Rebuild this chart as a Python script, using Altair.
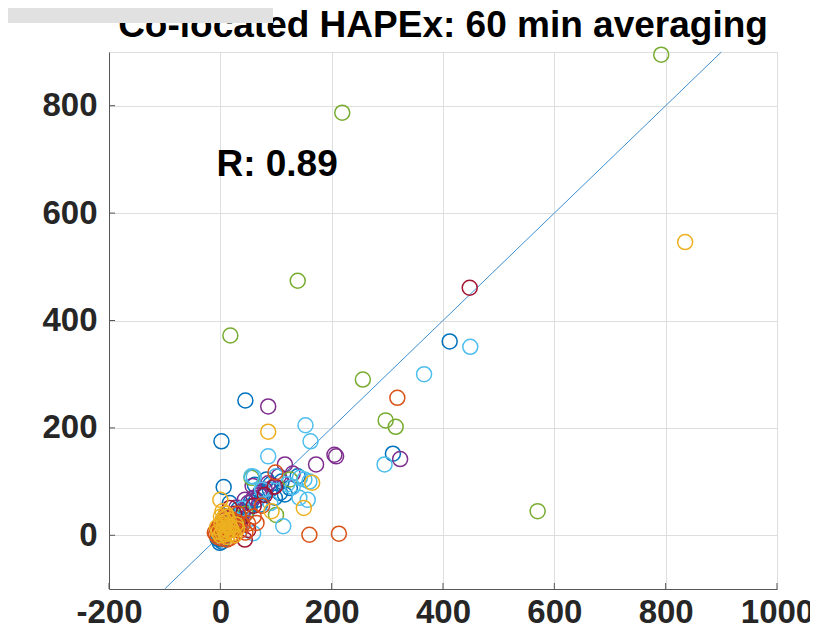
import altair as alt
import pandas as pd

# ---- data ----
blue_x = [412, 310, 45, 2, 6, 65, 77, 89, 107, 116, 98, 71, 53, 47, 32, 17, 23, 36, 62, 83, 139, -1, 0, 5, 12, 20, 28, 40, 55, 72, 90, 110, 125, 8, -3, 3, -5]
blue_y = [361, 152, 251, 175, 90, 66, 76, 85, 79, 76, 70, 57, 54, 42, 48, 60, 35, 30, 94, 104, 110, -14, -8, 10, 18, 25, 33, 45, 62, 80, 95, 100, 88, 3, 0, -12, -6]

purple_x = [86, 208, 323, 172, 116, 58, 86, 44, 29, 70, 95, 105, 60, 40, 50, 80, 130, 205]
purple_y = [240, 147, 142, 132, 132, 92, 97, 66, 52, 75, 90, 110, 70, 40, 60, 85, 115, 150]

green_x = [792, 219, 139, 18, 256, 297, 315, 570, 56, 125, 100, 45, 30]
green_y = [895, 787, 474, 372, 290, 214, 202, 45, 107, 104, 38, 40, 20]

lightblue_x = [449, 366, 295, 153, 162, 86, 60, 143, 151, 160, 142, 157, 59, 113, 56, 100, 120, 75, 40, 25, 90, 130]
lightblue_y = [351, 300, 132, 205, 175, 147, 109, 107, 104, 100, 70, 66, 4, 17, 110, 110, 95, 85, 50, 30, 60, 90]

darkred_x = [448, 44, 17, 98, 25, 35, 60, 80, 10, 50]
darkred_y = [461, -8, 51, 91, 40, 20, 55, 75, 30, 10]

orange_x = [318, 160, 213, 99, 65, 50, -8, -5, 0, 3, 6, 10, 14, 18, 22, 26, 30, -2, 4, 8, 12, 16, 20, 25, 35, 40, 45, 32, 60, 75, -10, -6, 2, 7, 1]
orange_y = [256, 1, 3, 117, 23, 22, 2, -3, 8, 0, 15, 5, 20, -5, 12, 2, 25, 18, 28, 35, -8, 10, 30, 15, 8, 20, 5, 40, 35, 55, 5, 10, -6, -2, 20]

yellow_x = [835, 86, 0, 165, 150, 92, 12, 0, 3, 6, 9, 14, 18, 22, -4, 2, 8, 12, 16, 20, 25, 5, 10, 28, 15, 30, -6, 1, 4, 11, 7]
yellow_y = [546, 193, 66, 98, 51, 45, 35, 0, 5, 12, 2, 8, 15, 4, 6, 22, 25, -3, 18, 10, 0, 30, 40, 20, 28, 12, 15, 35, 45, 5, 18]

line_x = [-100, 900]
line_y = [-100, 900]

x_ticks = [-200, 0, 200, 400, 600, 800, 1000]
y_ticks = [0, 200, 400, 600, 800]

title_text = "Co-located HAPEx: 60 min averaging"
r_text = "R: 0.89"

series = [
    ("blue", blue_x, blue_y),
    ("purple", purple_x, purple_y),
    ("green", green_x, green_y),
    ("lightblue", lightblue_x, lightblue_y),
    ("darkred", darkred_x, darkred_y),
    ("orange", orange_x, orange_y),
    ("yellow", yellow_x, yellow_y),
]
color_domain = ["blue", "orange", "yellow", "purple", "green", "lightblue", "darkred"]
color_range = ["#0072BD", "#D95319", "#EDB120", "#7E2F8E", "#77AC30", "#4DBEEE", "#A2142F"]

rows = []
for name, xs_, ys_ in series:
    for a, b in zip(xs_, ys_):
        rows.append({"x": a, "y": b, "s": name})
pts = pd.DataFrame(rows)
pts["order"] = range(len(pts))

W, H = 668, 537
FONT = "Liberation Sans"

xs = alt.Scale(domain=[-200, 1000], nice=False, zero=False)
ys = alt.Scale(domain=[-100, 900], nice=False, zero=False)

base_x_axis = alt.Axis(values=x_ticks, grid=True, gridColor="#dedede", gridWidth=1,
                       ticks=False, domainColor="#555555", domainWidth=1,
                       labelFont=FONT, labelFontSize=33, labelFontWeight="bold",
                       labelColor="#262626", labelPadding=7, title=None, labelFlush=False,
                       labelExpr="'' + datum.value")
base_y_axis = alt.Axis(values=y_ticks, grid=True, gridColor="#dedede", gridWidth=1,
                       ticks=False, domainColor="#555555", domainWidth=1,
                       labelFont=FONT, labelFontSize=33, labelFontWeight="bold",
                       labelColor="#262626", labelPadding=12, title=None,
                       labelExpr="'' + datum.value")

points = alt.Chart(pts).mark_point(shape="circle", filled=False, size=225, strokeWidth=1.5, opacity=1).encode(
    x=alt.X("x:Q", scale=xs, axis=base_x_axis),
    y=alt.Y("y:Q", scale=ys, axis=base_y_axis),
    color=alt.Color("s:N", scale=alt.Scale(domain=color_domain, range=color_range), legend=None),
    order=alt.Order("order:Q"),
)

line_df = pd.DataFrame({"x": line_x, "y": line_y})
line = alt.Chart(line_df).mark_line(color="#3d8fd1", strokeWidth=1).encode(
    x=alt.X("x:Q", scale=xs), y=alt.Y("y:Q", scale=ys)
)

xt = pd.DataFrame({"v": x_ticks})
yt = pd.DataFrame({"v": y_ticks})
xticks_m = alt.Chart(xt).mark_rule(color="#555555", strokeWidth=1).encode(
    x=alt.X("v:Q", scale=xs), y=alt.value(H), y2=alt.value(H - 6)
)
yticks_m = alt.Chart(yt).mark_rule(color="#555555", strokeWidth=1).encode(
    y=alt.Y("v:Q", scale=ys), x=alt.value(0), x2=alt.value(6)
)

rtext = alt.Chart(pd.DataFrame({"x": [-7], "y": [670], "t": [r_text]})).mark_text(
    font=FONT, fontSize=37, fontWeight="bold", color="#000000", align="left", baseline="alphabetic"
).encode(x=alt.X("x:Q", scale=xs), y=alt.Y("y:Q", scale=ys), text="t:N")

title = alt.Chart(pd.DataFrame({"t": [title_text]})).mark_text(
    font=FONT, fontSize=37, fontWeight="bold", color="#000000", align="center", baseline="alphabetic"
).encode(x=alt.value(W / 2), y=alt.value(-15), text="t:N")

box = alt.Chart(pd.DataFrame({"a": [0]})).mark_rect(color="#e1e1e1").encode(
    x=alt.value(-101), x2=alt.value(164), y=alt.value(-44), y2=alt.value(-29)
)

chart = alt.layer(line, points, xticks_m, yticks_m, rtext, title, box).properties(
    width=W, height=H,
    autosize=alt.AutoSizeParams(type="none"),
    padding={"left": 101, "top": 44, "right": 33, "bottom": 41},
).configure_view(stroke=None).configure(background="white")

chart.save("out.html", embed_options={"renderer": "svg", "actions": False})
